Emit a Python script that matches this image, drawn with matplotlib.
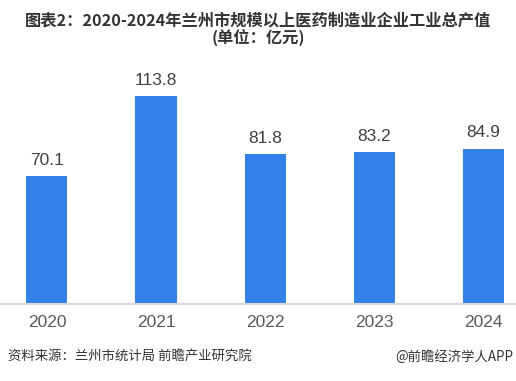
import matplotlib
matplotlib.use("Agg")
import matplotlib.pyplot as plt

plt.rcParams['font.family'] = ['Noto Sans CJK SC', 'DejaVu Sans']

years = ["2020", "2021", "2022", "2023", "2024"]
values = [70.1, 113.8, 81.8, 83.2, 84.9]
title = "图表2：2020-2024年兰州市规模以上医药制造业企业工业总产值\n(单位：亿元)"
source = "资料来源：兰州市统计局 前瞻产业研究院"
credit = "@前瞻经济学人APP"

fig = plt.figure(figsize=(5.16, 3.81), dpi=100)
ax = fig.add_axes([0.0, 0.202, 1.0, 0.641])
x = list(range(len(years)))
ax.bar(x, values, width=0.376, color="#3381e6", zorder=2)
for xi, v in zip(x, values):
    ax.text(xi, v + 4.5, f"{v:.1f}", ha="center", va="bottom", fontsize=12.5,
            color="#404040", family=["Liberation Sans", "DejaVu Sans"])
ax.set_xlim(-0.43, 4.30)
ax.set_ylim(0, 133.5)
ax.set_xticks(x)
ax.set_xticklabels(years, fontsize=12.5, color="#595959", family=["Liberation Sans", "DejaVu Sans"])
ax.tick_params(axis="x", length=0, pad=8)
ax.set_yticks([])
for s in ["top", "left", "right"]:
    ax.spines[s].set_visible(False)
ax.spines["bottom"].set_color("#d9d9d9")
ax.spines["bottom"].set_linewidth(1.5)

fig.text(0.5, 0.922, title, ha="center", va="center", fontsize=11.7, fontweight="bold",
         color="#333333", linespacing=1.1)
fig.text(0.015, 0.063, source, ha="left", va="center", fontsize=9.6, color="#333333")
fig.text(0.995, 0.063, credit, ha="right", va="center", fontsize=9.6, color="#333333")

fig.savefig("out.png", dpi=100)
